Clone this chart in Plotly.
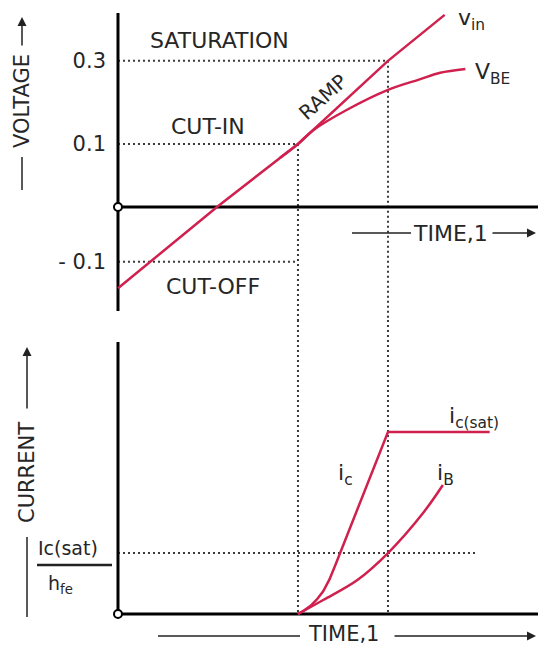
import plotly.graph_objects as go

# ---------------- data (schematic units) ----------------
# time axis: t=2 cut-in instant, t=3 saturation instant
t_cutin = 2.0
t_sat = 3.0

vin_t = [0.0, 1.1, 2.0, 3.0, 3.63]
vin_v = [-0.129, 0.0, 0.1, 0.232, 0.305]

vbe_t = [1.8, 2.0, 2.17, 2.54, 3.0, 3.36, 3.58, 3.86]
vbe_v = [0.078, 0.1, 0.122, 0.154, 0.186, 0.203, 0.213, 0.219]

ic_t = [2.00, 2.07, 2.14, 2.21, 2.28, 2.35, 2.42, 3.00, 4.13]
ic_i = [0.00, 0.02, 0.045, 0.08, 0.125, 0.19, 0.275, 1.0, 1.0]

ib_t = [2.0, 2.28, 2.66, 3.0, 3.39, 3.61]
ib_i = [0.0, 0.077, 0.187, 0.335, 0.555, 0.709]

volt_tick_pos = [0.232, 0.1, -0.087]
volt_tick_text = ["0.3", "0.1", "- 0.1"]
v_sat_level = 0.232
v_cutin_level = 0.1
v_cutoff_level = -0.087
ic_sat_over_hfe = 0.335
ic_dotted_end = 3.99

# axis extents
X_RANGE = [-1.311, 4.667]
V_RANGE = [-0.1794, 0.3286]
I_RANGE = [-0.1813, 1.6154]
V_AXIS = [-0.1651, 0.3079]
I_AXIS_TOP = 1.4945

W, H = 538, 647
FONT = "DejaVu Sans"
TXT = "#262626"
RED = "#d0204e"
DOT = dict(color="#3a3a3a", width=2, dash="2px,3px")
AX = dict(color="black", width=3)

fig = go.Figure()


def line(x, y, style, xa="x", ya="y", shape="linear"):
    fig.add_trace(go.Scatter(x=x, y=y, mode="lines", line=dict(**style, shape=shape),
                             xaxis=xa, yaxis=ya, showlegend=False, hoverinfo="skip"))


# ---- top panel: voltage ----
line([0, t_sat], [v_sat_level, v_sat_level], DOT)
line([0, t_cutin], [v_cutin_level, v_cutin_level], DOT)
line([0, t_cutin], [v_cutoff_level, v_cutoff_level], DOT)
line([t_cutin, t_cutin], [v_cutin_level, V_RANGE[0]], DOT)
line([t_sat, t_sat], [v_sat_level, V_RANGE[0]], DOT)
line([0, 0], V_AXIS, AX)
line([0, X_RANGE[1]], [0, 0], AX)
line(vin_t, vin_v, dict(color=RED, width=2.5))
line(vbe_t, vbe_v, dict(color=RED, width=2.5), shape="spline")
fig.add_trace(go.Scatter(x=[0], y=[0], mode="markers", xaxis="x", yaxis="y",
                         marker=dict(size=8, color="white", line=dict(color="black", width=2)),
                         showlegend=False, hoverinfo="skip"))

# ---- bottom panel: current ----
line([0, ic_dotted_end], [ic_sat_over_hfe, ic_sat_over_hfe], DOT, "x2", "y2")
line([t_cutin, t_cutin], [I_RANGE[1], 0], DOT, "x2", "y2")
line([t_sat, t_sat], [I_RANGE[1], 0], DOT, "x2", "y2")
line([0, 0], [0, I_AXIS_TOP], AX, "x2", "y2")
line([0, X_RANGE[1]], [0, 0], AX, "x2", "y2")
line(ic_t, ic_i, dict(color=RED, width=2.5), "x2", "y2")
line(ib_t, ib_i, dict(color=RED, width=2.5), "x2", "y2", shape="spline")
fig.add_trace(go.Scatter(x=[0], y=[0], mode="markers", xaxis="x2", yaxis="y2",
                         marker=dict(size=8, color="white", line=dict(color="black", width=2)),
                         showlegend=False, hoverinfo="skip"))


def px(x, y):
    return x / W, 1 - y / H


ann = []


def text_data(t, x, y, size=22, xr="x", yr="y", angle=0, xanchor="center"):
    ann.append(dict(text=t, x=x, y=y, xref=xr, yref=yr, showarrow=False, textangle=angle,
                    xanchor=xanchor, yanchor="middle", font=dict(family=FONT, size=size, color=TXT)))


def text_px(t, x, y, size=22, angle=0):
    X, Y = px(x, y)
    ann.append(dict(text=t, x=X, y=Y, xref="paper", yref="paper", showarrow=False, textangle=angle,
                    xanchor="center", yanchor="middle", font=dict(family=FONT, size=size, color=TXT)))


def arrow_px(x0, y0, x1, y1):
    X, Y = px(x1, y1)
    ann.append(dict(text="", x=X, y=Y, xref="paper", yref="paper", ax=x0 - x1, ay=y0 - y1,
                    showarrow=True, arrowhead=2, arrowsize=1.2, arrowwidth=1.5,
                    arrowcolor="#222", standoff=0))


shapes = []


def seg_px(x0, y0, x1, y1, w=1.5):
    X0, Y0 = px(x0, y0)
    X1, Y1 = px(x1, y1)
    shapes.append(dict(type="line", xref="paper", yref="paper", x0=X0, y0=Y0, x1=X1, y1=Y1,
                       line=dict(color="#222", width=w)))


# labels in data coordinates
text_data("SATURATION", 1.133, 0.265)
text_data("CUT-IN", 1.0, 0.127)
text_data("CUT-OFF", 1.056, -0.127)
text_data("RAMP", 2.278, 0.1746, size=20, angle=-42)
text_data("v<sub>in</sub>", 3.756, 0.298, xanchor="left")
text_data("V<sub>BE</sub>", 3.944, 0.2127, xanchor="left")
text_data("i<sub>c(sat)</sub>", 3.656, 1.077, xr="x2", yr="y2", xanchor="left")
text_data("i<sub>c</sub>", 2.533, 0.764, xr="x2", yr="y2")
text_data("i<sub>B</sub>", 3.644, 0.769, xr="x2", yr="y2")

# axis titles and decorations
text_px("VOLTAGE", 22, 101, size=21, angle=-90)
arrow_px(22, 47, 22, 17)
seg_px(22, 157, 22, 190)
text_px("CURRENT", 27, 473, size=21, angle=-90)
arrow_px(27, 410, 27, 347)
seg_px(27, 537, 27, 617)
text_px("TIME,1", 450, 233)
seg_px(352, 233, 411, 233)
arrow_px(491, 233, 536, 233)
text_px("TIME,1", 343, 634, size=21)
seg_px(158, 636, 300, 636)
arrow_px(393, 636, 536, 636)
text_px("Ic(sat)", 68, 548, size=19)
seg_px(37, 565, 112, 565, w=2.5)
text_px("h<sub>fe</sub>", 60, 584, size=19)

fig.update_layout(
    width=W, height=H, margin=dict(l=0, r=0, t=0, b=0),
    paper_bgcolor="white", plot_bgcolor="white",
    annotations=ann, shapes=shapes,
    xaxis=dict(domain=[0, 1], range=X_RANGE, visible=False, anchor="y"),
    yaxis=dict(domain=[1 - 320 / H, 1], range=V_RANGE, anchor="free", position=118 / W,
               showgrid=False, zeroline=False, showline=False, ticks="",
               tickvals=volt_tick_pos, ticktext=volt_tick_text, ticklabelstandoff=12,
               tickfont=dict(family=FONT, size=21, color=TXT)),
    xaxis2=dict(domain=[0, 1], range=X_RANGE, visible=False, anchor="y2"),
    yaxis2=dict(domain=[0, 1 - 320 / H], range=I_RANGE, visible=False, anchor="x2"),
)

fig.write_html("out.html", config={"displayModeBar": False},
               post_script="document.body.style.margin='0';"
                           "document.documentElement.style.overflow='hidden';")
